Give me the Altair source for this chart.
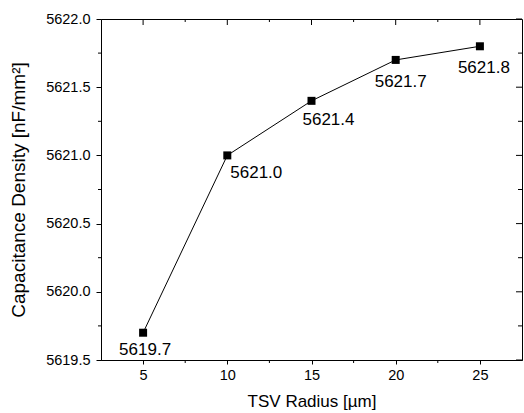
import altair as alt
import pandas as pd

# ---- data ----
radius = [5, 10, 15, 20, 25]
density = [5619.7, 5621.0, 5621.4, 5621.7, 5621.8]
labels = ["5619.7", "5621.0", "5621.4", "5621.7", "5621.8"]

x_major = [5, 10, 15, 20, 25]
x_minor = [7.5, 12.5, 17.5, 22.5]
y_major = [5619.5, 5620.0, 5620.5, 5621.0, 5621.5, 5622.0]
y_minor = [5619.75, 5620.25, 5620.75, 5621.25, 5621.75]

# label offsets (style): dx, dy in pixels relative to each marker
label_offsets = [(2, 17), (29, 18), (17, 19), (5, 22), (4, 22)]

W, H = 421, 341
FONT = "Liberation Sans"

df = pd.DataFrame({"r": radius, "c": density, "lab": labels})

xs = alt.Scale(domain=[2.5, 27.5], nice=False, zero=False)
ys = alt.Scale(domain=[5619.5, 5622.0], nice=False, zero=False)

xaxis = alt.Axis(values=x_major, title="TSV Radius [µm]", tickSize=4, labelPadding=4,
                 titlePadding=12, format="d")
yaxis = alt.Axis(values=y_major, title="Capacitance Density [nF/mm²]", tickSize=5,
                 labelPadding=6, titlePadding=17, titleFontSize=19, format=".1f")

base = alt.Chart(df)

line = base.mark_line(color="black", strokeWidth=1).encode(
    x=alt.X("r:Q", scale=xs, axis=xaxis),
    y=alt.Y("c:Q", scale=ys, axis=yaxis),
)
pts = base.mark_square(size=64, color="black", opacity=1).encode(
    x=alt.X("r:Q", scale=xs), y=alt.Y("c:Q", scale=ys)
)

text_layers = []
for i, (dx, dy) in enumerate(label_offsets):
    t = base.transform_filter(alt.datum.r == radius[i]).mark_text(
        font=FONT, fontSize=17, color="black", dx=dx, dy=dy, align="center", baseline="middle"
    ).encode(x=alt.X("r:Q", scale=xs), y=alt.Y("c:Q", scale=ys), text="lab:N")
    text_layers.append(t)

xmaj_df = pd.DataFrame({"v": x_major})
xmin_df = pd.DataFrame({"v": x_minor})
ymaj_df = pd.DataFrame({"v": y_major})
ymin_df = pd.DataFrame({"v": y_minor})

def xrule(d, y1, y2):
    return alt.Chart(d).mark_rule(color="black", strokeWidth=1).encode(
        x=alt.X("v:Q", scale=xs), y=alt.value(y1), y2=alt.value(y2))

def yrule(d, x1, x2):
    return alt.Chart(d).mark_rule(color="black", strokeWidth=1).encode(
        y=alt.Y("v:Q", scale=ys), x=alt.value(x1), x2=alt.value(x2))

ticks = [
    xrule(xmin_df, H, H + 3),      # bottom minor
    yrule(ymin_df, 0, -3),         # left minor
    xrule(xmaj_df, 0, 6),          # top major (inward)
    xrule(xmin_df, 0, 3),          # top minor
    yrule(ymaj_df, W, W - 6),      # right major (inward)
    yrule(ymin_df, W, W - 4),      # right minor
]

chart = alt.layer(line, pts, *text_layers, *ticks).properties(
    width=W, height=H,
    padding={"left": 101, "top": 19, "right": 2, "bottom": 53},
    autosize="none",
    background="white",
).configure_view(stroke="black", strokeWidth=1).configure_axis(
    grid=False, domainColor="black", tickColor="black", labelColor="black",
    titleColor="black", labelFont=FONT, titleFont=FONT, labelFontSize=14.5,
    titleFontSize=17, titleFontWeight="normal", domainWidth=1, tickWidth=1,
)

chart.save("out.html", embed_options={"renderer": "svg", "actions": False})
